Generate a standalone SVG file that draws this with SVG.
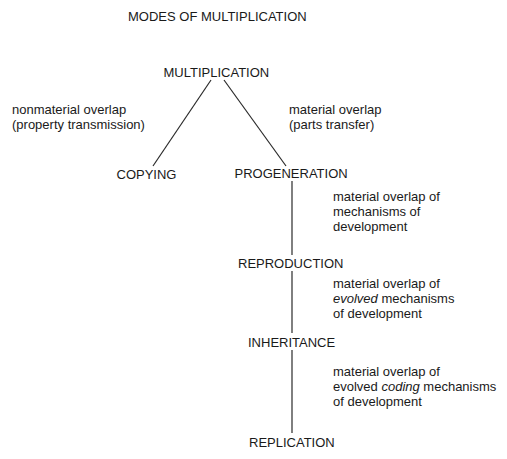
<svg xmlns="http://www.w3.org/2000/svg" width="507" height="459" viewBox="0 0 507 459">
<style>
text{font-family:"Liberation Sans",Arial,sans-serif;font-size:13px;fill:#1a1a1a}
.ln{stroke:#2a2a2a;stroke-width:1.2;fill:none}
</style>
<rect width="507" height="459" fill="#fff"/>
<text id="title" x="128" y="20.5">MODES OF MULTIPLICATION</text>
<g id="connectors">
<line class="ln" x1="211" y1="80" x2="153" y2="166"/>
<line class="ln" x1="224" y1="80" x2="286" y2="166"/>
<line class="ln" x1="292" y1="181" x2="292" y2="255"/>
<line class="ln" x1="292" y1="271" x2="292" y2="333"/>
<line class="ln" x1="292" y1="350" x2="292" y2="433"/>
</g>
<g id="multiplication"><text x="163.5" y="76.5">MULTIPLICATION</text></g>
<g id="copying"><text x="116.5" y="178.5">COPYING</text></g>
<g id="progeneration"><text x="234.5" y="177.5">PROGENERATION</text></g>
<g id="reproduction"><text x="238" y="268">REPRODUCTION</text></g>
<g id="inheritance"><text x="248" y="347">INHERITANCE</text></g>
<g id="replication"><text x="249" y="447">REPLICATION</text></g>
<g id="labels">
<text x="12" y="114">nonmaterial overlap</text>
<text x="12" y="129">(property transmission)</text>
<text x="289" y="114">material overlap</text>
<text x="289" y="129">(parts transfer)</text>
<text x="333" y="201">material overlap of</text>
<text x="333" y="216">mechanisms of</text>
<text x="333" y="231">development</text>
<text x="333" y="288">material overlap of</text>
<text x="333" y="303"><tspan font-style="italic">evolved</tspan> mechanisms</text>
<text x="333" y="318">of development</text>
<text x="333" y="376">material overlap of</text>
<text x="333" y="391">evolved <tspan font-style="italic">coding</tspan> mechanisms</text>
<text x="333" y="406">of development</text>
</g>
</svg>
